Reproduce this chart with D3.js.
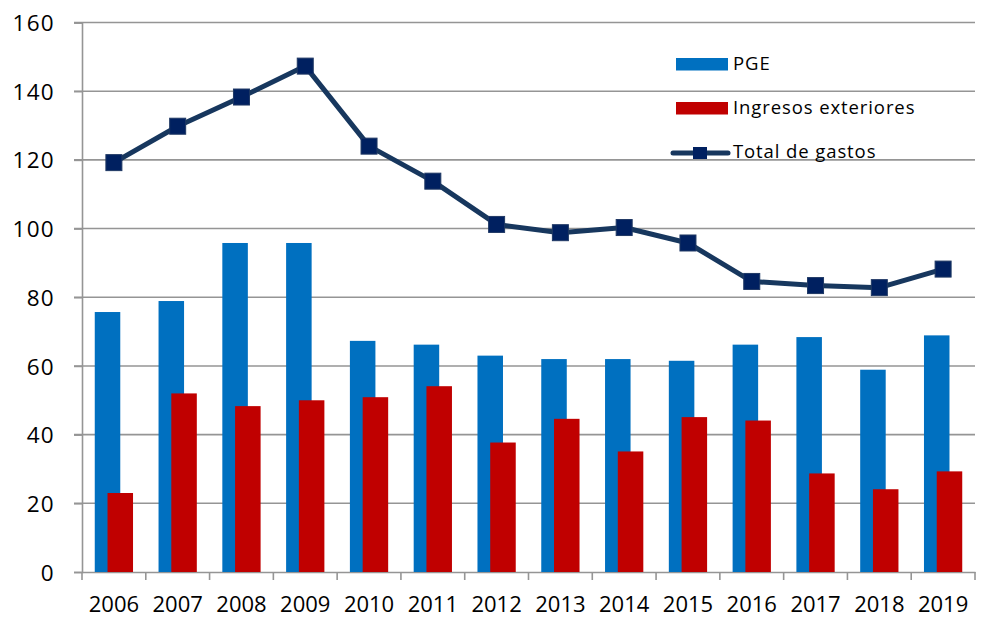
<!DOCTYPE html>
<html><head><meta charset="utf-8">
<script src="https://cdn.jsdelivr.net/npm/d3@7"></script>
<style>body{margin:0;background:#fff}svg{display:block}text{font-family:"Open Sans",sans-serif;fill:#000}</style>
</head><body><svg id="c" width="989" height="620"></svg>
<script>
const years = ["2006","2007","2008","2009","2010","2011","2012","2013","2014","2015","2016","2017","2018","2019"];
const pge = [75.7,78.9,95.8,95.8,67.3,66.2,63.0,62.0,62.0,61.5,66.2,68.4,58.9,68.9];
const ingresos = [23.0,52.0,48.3,50.0,50.9,54.1,37.7,44.6,35.1,45.1,44.1,28.7,24.1,29.3];
const total = [119.2,129.8,138.3,147.3,124.0,113.8,101.2,98.8,100.3,95.8,84.6,83.4,82.8,88.2];
const yTicks = [0,20,40,60,80,100,120,140,160];
const seriesNames = ["PGE","Ingresos exteriores","Total de gastos"];

const svg = d3.select("#c");
const L=82, R=975, T=22.5, B=572;
const x = d3.scaleBand().domain(years).range([L,R]);
const y = d3.scaleLinear().domain([0,160]).range([B,T]);
const bw = x.bandwidth();

// gridlines
svg.append("g").selectAll("line").data(yTicks.filter(d=>d>0)).join("line")
  .attr("x1",L-8).attr("x2",R).attr("y1",d=>y(d)).attr("y2",d=>y(d))
  .attr("stroke","#959595").attr("stroke-width",1.6);

// y axis
const ya = svg.append("g").attr("transform",`translate(${L},0)`)
  .call(d3.axisLeft(y).tickValues(yTicks).tickSize(8).tickPadding(19));
ya.select(".domain").attr("stroke","#959595").attr("stroke-width",1.6);
ya.selectAll(".tick line").attr("stroke","#959595").attr("stroke-width",1.6);
ya.selectAll("text").style("font-size","22.5px").style("letter-spacing","1.3px").attr("dy","0.36em").attr("fill","#000");

// x axis
const xa = svg.append("g").attr("transform",`translate(0,${B})`)
  .call(d3.axisBottom(x).tickSize(0).tickPadding(24));
xa.select(".domain").attr("stroke","#959595").attr("stroke-width",1.6);
xa.selectAll("text").style("font-size","22px").attr("fill","#000");
svg.append("g").selectAll("line").data(d3.range(years.length+1)).join("line")
  .attr("x1",i=>L+i*bw).attr("x2",i=>L+i*bw).attr("y1",B).attr("y2",B+8)
  .attr("stroke","#959595").attr("stroke-width",1.6);

// bars
svg.append("g").selectAll("rect").data(years).join("rect")
  .attr("x",(d)=>x(d)+bw*0.2).attr("width",bw*0.4)
  .attr("y",(d,i)=>y(pge[i])).attr("height",(d,i)=>B-y(pge[i]))
  .attr("fill","#0070C0");
svg.append("g").selectAll("rect").data(years).join("rect")
  .attr("x",(d)=>x(d)+bw*0.4).attr("width",bw*0.4)
  .attr("y",(d,i)=>y(ingresos[i])).attr("height",(d,i)=>B-y(ingresos[i]))
  .attr("fill","#C00000");

// line
const line = d3.line().x((d,i)=>x(years[i])+bw/2).y(d=>y(d));
svg.append("path").datum(total).attr("d",line).attr("fill","none")
  .attr("stroke","#17375E").attr("stroke-width",5).attr("stroke-linejoin","round");
const ms=16;
svg.append("g").selectAll("rect").data(total).join("rect")
  .attr("x",(d,i)=>x(years[i])+bw/2-ms/2).attr("y",d=>y(d)-ms/2)
  .attr("width",ms).attr("height",ms)
  .attr("fill","#002060").attr("stroke","#1F3864").attr("stroke-width",1);

// legend
const lg = svg.append("g");
lg.append("rect").attr("x",676).attr("y",58).attr("width",52).attr("height",12.5).attr("fill","#0070C0");
lg.append("rect").attr("x",676).attr("y",102).attr("width",52).attr("height",12.5).attr("fill","#C00000");
lg.append("line").attr("x1",673).attr("x2",728).attr("y1",153).attr("y2",153).attr("stroke","#17375E").attr("stroke-width",5).attr("stroke-linecap","round");
lg.append("rect").attr("x",693).attr("y",147).attr("width",14).attr("height",12).attr("fill","#002060");
const ly=[70,114,158];
seriesNames.forEach((n,i)=>{
  lg.append("text").attr("x",733).attr("y",ly[i]).style("font-size","18.5px").style("letter-spacing","0.9px").text(n);
});
</script></body></html>
